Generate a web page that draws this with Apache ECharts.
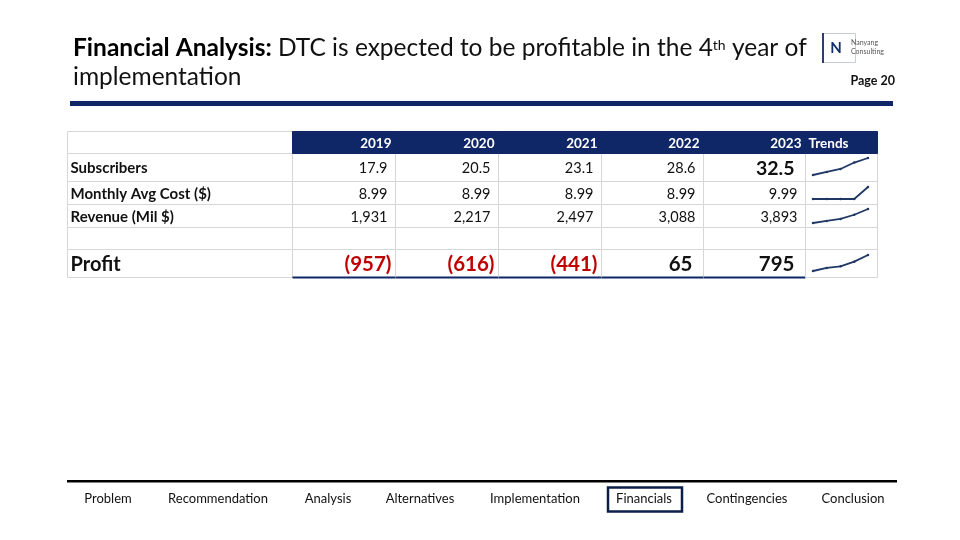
<!DOCTYPE html>
<html><head><meta charset="utf-8">
<script src="https://cdn.jsdelivr.net/npm/echarts@6/dist/echarts.min.js"></script>
<style>html,body{margin:0;padding:0;background:#fff}#c{width:960px;height:540px}</style>
</head><body><div id="c"></div>
<script>
// ---- data ----
const years = ['2019', '2020', '2021', '2022', '2023'];
const rowLabels = ['Subscribers', 'Monthly Avg Cost ($)', 'Revenue (Mil $)', 'Profit'];
const subscribers = [17.9, 20.5, 23.1, 28.6, 32.5];
const monthlyCost = [8.99, 8.99, 8.99, 8.99, 9.99];
const revenue = [1931, 2217, 2497, 3088, 3893];
const profit = [-957, -616, -441, 65, 795];
const trendsHeader = 'Trends';
const navItems = ['Problem', 'Recommendation', 'Analysis', 'Alternatives', 'Implementation', 'Financials', 'Contingencies', 'Conclusion'];

// ---- layout (not data) ----
const colEdges = [0, 225, 328, 431, 534, 636, 738, 810];
const rowEdges = [0, 22, 50, 73, 96, 118, 146];
const NAVY = '#0f2667';
const FAM = 'Lato, "Noto Sans", sans-serif';

const fmtSub = v => v.toFixed(1);
const fmtCost = v => v.toFixed(2);
const fmtRev = v => v.toLocaleString('en-US');
const fmtProfit = v => v < 0 ? '(' + Math.abs(v).toLocaleString('en-US') + ')' : v.toLocaleString('en-US');

// build cells
const cells = [];
cells.push({c: 0, r: 0, kind: 'headEmpty', text: ''});
years.forEach((y, i) => cells.push({c: i + 1, r: 0, kind: 'head', text: y}));
cells.push({c: 6, r: 0, kind: 'headTrend', text: trendsHeader});
const rowsData = [
  {r: 1, label: rowLabels[0], vals: subscribers, fmt: fmtSub},
  {r: 2, label: rowLabels[1], vals: monthlyCost, fmt: fmtCost},
  {r: 3, label: rowLabels[2], vals: revenue, fmt: fmtRev},
  {r: 5, label: rowLabels[3], vals: profit, fmt: fmtProfit}
];
rowsData.forEach(rd => {
  cells.push({c: 0, r: rd.r, kind: rd.r === 5 ? 'labelBig' : 'label', text: rd.label});
  rd.vals.forEach((v, i) => {
    let kind = 'num';
    if (rd.r === 5) kind = v < 0 ? 'neg' : 'numBig2';
    else if (rd.r === 1 && i === rd.vals.length - 1) kind = 'numBig';
    cells.push({c: i + 1, r: rd.r, kind: kind, text: rd.fmt(v)});
  });
  cells.push({c: 6, r: rd.r, kind: 'blank', text: ''});
});
for (let c = 0; c < 7; c++) cells.push({c: c, r: 4, kind: 'blank', text: ''});
cells.sort((a, b) => (a.r === 0 ? 1 : 0) - (b.r === 0 ? 1 : 0));

function renderCell(params, api) {
  const cell = cells[params.dataIndex];
  const p0 = api.coord([colEdges[cell.c], rowEdges[cell.r]]);
  const p1 = api.coord([colEdges[cell.c + 1], rowEdges[cell.r + 1]]);
  const x0 = Math.round(p0[0]) + 0.5, y0 = Math.round(p0[1]) + 0.5;
  const x1 = Math.round(p1[0]) + 0.5, y1 = Math.round(p1[1]) + 0.5;
  const children = [];
  const isHead = cell.kind === 'head' || cell.kind === 'headTrend';
  children.push({
    type: 'rect',
    shape: {x: x0, y: y0, width: x1 - x0, height: y1 - y0},
    style: isHead ? {fill: NAVY, stroke: NAVY, lineWidth: 1} : {fill: '#fff', stroke: '#d6d6d6', lineWidth: 1}
  });
  const cy = (y0 + y1) / 2 + 1;
  let st = null;
  switch (cell.kind) {
    case 'head': st = {x: x1 - 4, align: 'right', font: 'bold 13.5px ' + FAM, fill: '#fff'}; break;
    case 'headTrend': st = {x: x0 + 3, align: 'left', font: 'bold 13.5px ' + FAM, fill: '#fff'}; break;
    case 'label': st = {x: x0 + 3, align: 'left', font: 'bold 15px ' + FAM, fill: '#111'}; break;
    case 'labelBig': st = {x: x0 + 3, align: 'left', font: 'bold 20px ' + FAM, fill: '#111'}; break;
    case 'num': st = {x: x1 - 8, align: 'right', font: '14.5px ' + FAM, fill: '#111'}; break;
    case 'numBig': st = {x: x1 - 11, align: 'right', font: 'bold 19.5px ' + FAM, fill: '#111'}; break;
    case 'numBig2': st = {x: x1 - 11, align: 'right', font: 'bold 20.5px ' + FAM, fill: '#111'}; break;
    case 'neg': st = {x: x1 - 4, align: 'right', font: 'bold 20.5px ' + FAM, fill: '#c00000'}; break;
  }
  if (st && cell.text) {
    children.push({type: 'text', style: Object.assign({text: cell.text, y: cy, verticalAlign: 'middle'}, st)});
  }
  if (cell.r === 5 && cell.c >= 1 && cell.c <= 5) {
    children.push({type: 'line', shape: {x1: x0, y1: y1, x2: x1, y2: y1}, style: {stroke: NAVY, lineWidth: 2}});
  }
  return {type: 'group', children: children};
}

const sparkSeries = [subscribers, monthlyCost, revenue, profit];
const sparkGrids = [
  {left: 813, top: 158, width: 55, height: 17},
  {left: 813, top: 187, width: 55, height: 12},
  {left: 813, top: 209, width: 55, height: 14},
  {left: 813, top: 255, width: 55, height: 16}
];

const grids = [{left: 67, top: 131, width: 810, height: 146}].concat(sparkGrids);
const xAxes = [{type: 'value', gridIndex: 0, min: 0, max: 810, show: false}];
const yAxes = [{type: 'value', gridIndex: 0, min: 0, max: 146, inverse: true, show: false}];
const series = [{
  type: 'custom', xAxisIndex: 0, yAxisIndex: 0, z: 1,
  data: cells.map(c => [c.c, c.r]),
  renderItem: renderCell, silent: true, animation: false
}];
sparkSeries.forEach((arr, i) => {
  xAxes.push({type: 'category', gridIndex: i + 1, data: years, boundaryGap: false, show: false});
  yAxes.push({type: 'value', gridIndex: i + 1, min: 'dataMin', max: 'dataMax', show: false, scale: true});
  series.push({
    type: 'line', xAxisIndex: i + 1, yAxisIndex: i + 1, data: arr, z: 5,
    showSymbol: true, symbol: 'circle', symbolSize: 2.5,
    itemStyle: {color: '#1f3864'},
    lineStyle: {color: '#1f3864', width: 1.8}, animation: false, silent: true
  });
});

const navCenters = [108, 218, 328, 420, 535, 644, 747, 853];
const graphics = [
  {type: 'rect', shape: {x: 70, y: 101, width: 823, height: 5}, style: {fill: NAVY}},
  {type: 'rect', shape: {x: 67, y: 480, width: 830, height: 2.5}, style: {fill: '#000'}},
  {type: 'rect', shape: {x: 608, y: 487.5, width: 74, height: 24}, style: {fill: 'none', stroke: '#0c1f4a', lineWidth: 2.5}},
  {type: 'rect', shape: {x: 822.5, y: 33.5, width: 33, height: 29}, style: {fill: '#fff', stroke: '#c8ccd6', lineWidth: 1}},
  {type: 'rect', shape: {x: 822, y: 33, width: 2, height: 30}, style: {fill: '#2a3f6d'}},
  {type: 'text', style: {text: 'N', x: 836, y: 48, align: 'center', verticalAlign: 'middle', font: 'bold 15px ' + FAM, fill: '#14306b'}},
  {type: 'text', style: {text: 'Nanyang\nConsulting', x: 851, y: 47, align: 'left', verticalAlign: 'middle', font: '7px ' + FAM, fill: '#555', lineHeight: 9}},
  {type: 'text', style: {text: 'Page 20', x: 895, y: 81, align: 'right', verticalAlign: 'middle', font: 'bold 12.5px ' + FAM, fill: '#111'}}
];
navItems.forEach((t, i) => {
  graphics.push({type: 'text', style: {text: t, x: navCenters[i], y: 499, align: 'center', verticalAlign: 'middle', font: '13px ' + FAM, fill: '#111'}});
});

const chart = echarts.init(document.getElementById('c'), null, {renderer: 'canvas'});
chart.setOption({
  backgroundColor: '#fff',
  animation: false,
  title: {
    left: 68, top: 29,
    text: '{b|Financial Analysis:}{r| DTC is expected to be profitable in the 4}{s|th}{r| year of}\n{r|implementation}',
    textStyle: {
      fontFamily: FAM, fontWeight: 'normal', fontSize: 24, color: '#111',
      rich: {
        b: {fontFamily: FAM, fontWeight: 'bold', fontSize: 24.5, color: '#000', lineHeight: 29},
        r: {fontFamily: FAM, fontWeight: 'normal', fontSize: 24.5, color: '#111', lineHeight: 29},
        s: {fontFamily: FAM, fontWeight: 'normal', fontSize: 14, color: '#111', lineHeight: 29, verticalAlign: 'bottom', padding: [0, 0, 11, 0]}
      }
    }
  },
  grid: grids, xAxis: xAxes, yAxis: yAxes, series: series,
  graphic: graphics
});
</script></body></html>
